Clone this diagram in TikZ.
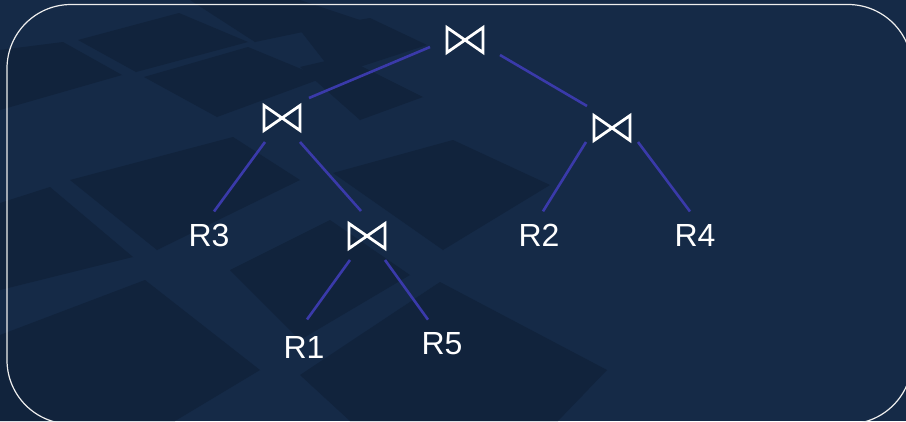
\documentclass[tikz,border=0pt]{standalone}
\usepackage{fontspec}
\setmainfont{Liberation Sans}
\usetikzlibrary{calc}
\definecolor{bgmain}{HTML}{152A47}
\definecolor{bgdark}{HTML}{11233C}
\definecolor{edgeblue}{HTML}{3A3AAA}
\definecolor{framecol}{HTML}{EEEEEE}
\tikzset{
  tile/.style={fill=bgdark, draw=none},
  jn/.style={minimum width=36pt, minimum height=25pt, inner sep=0pt, outer sep=0pt},
  tie/.style={draw=white, line width=2.8pt},
  lbl/.style={text=white, font=\fontsize{32}{36}\selectfont, inner sep=0pt, anchor=base},
  edge/.style={draw=edgeblue, line width=2.6pt}
}
\begin{document}
\begin{tikzpicture}[x=1pt, y=-1pt]
\useasboundingbox (0,0) rectangle (906,421);
\fill[bgmain] (0,0) rectangle (906,421);
% background tiles
\fill[tile] (0,50) -- (63,42) -- (122,75) -- (0,110) -- cycle;
\fill[tile] (78,40) -- (179,13) -- (248,42) -- (136,72) -- cycle;
\fill[tile] (144,77) -- (248,47) -- (323,78) -- (217,117) -- cycle;
\fill[tile] (190,0) -- (300,0) -- (360,20) -- (255,42) -- cycle;
\fill[tile] (300,30) -- (370,18) -- (427,45) -- (335,75) -- cycle;
\fill[tile] (300,67) -- (343,57) -- (423,97) -- (360,120) -- cycle;
\fill[tile] (70,180) -- (233,137) -- (300,180) -- (157,250) -- cycle;
\fill[tile] (0,203) -- (50,187) -- (133,257) -- (0,290) -- cycle;
\fill[tile] (333,173) -- (453,140) -- (550,185) -- (443,250) -- cycle;
\fill[tile] (230,270) -- (330,220) -- (410,275) -- (300,340) -- cycle;
\fill[tile] (0,335) -- (145,280) -- (260,370) -- (175,421) -- (0,421) -- cycle;
\fill[tile] (300,375) -- (440,282) -- (607,370) -- (558,421) -- (350,421) -- cycle;
% frame
\draw[framecol, line width=1.2pt, rounded corners=64pt] (7,4.5) rectangle (912,424);
% join nodes
\node[jn] (T) at (465,40) {};
\node[jn] (L) at (282,118) {};
\node[jn] (J) at (612,128) {};
\node[jn] (B) at (367,236) {};
\foreach \n in {T,L,J,B}
  \draw[tie] (\n.north west) -- (\n.south east) -- (\n.north east) -- (\n.south west) -- cycle;
% relation labels
\node[lbl] (R3) at (209,246) {R3};
\node[lbl] (R2) at (539,246) {R2};
\node[lbl] (R4) at (695,246) {R4};
\node[lbl] (R1) at (304,358) {R1};
\node[lbl] (R5) at (442,354) {R5};
% connectors
\draw[edge] ($(T.center)+(-35,7)$) -- ($(L.center)+(27,-20)$);
\draw[edge] ($(T.center)+(35,15)$) -- ($(J.center)+(-25,-22)$);
\draw[edge] ($(L.center)+(-17,24)$) -- ($(R3.center)+(5,-23.5)$);
\draw[edge] ($(L.center)+(18,24)$) -- ($(B.center)+(-6,-25)$);
\draw[edge] ($(J.center)+(-26,14)$) -- ($(R2.center)+(4,-23.5)$);
\draw[edge] ($(J.center)+(26,14)$) -- ($(R4.center)+(-5,-23.5)$);
\draw[edge] ($(B.center)+(-17,24)$) -- ($(R1.center)+(3,-27.5)$);
\draw[edge] ($(B.center)+(18,24)$) -- ($(R5.center)+(-14,-23.5)$);
\end{tikzpicture}
\end{document}
